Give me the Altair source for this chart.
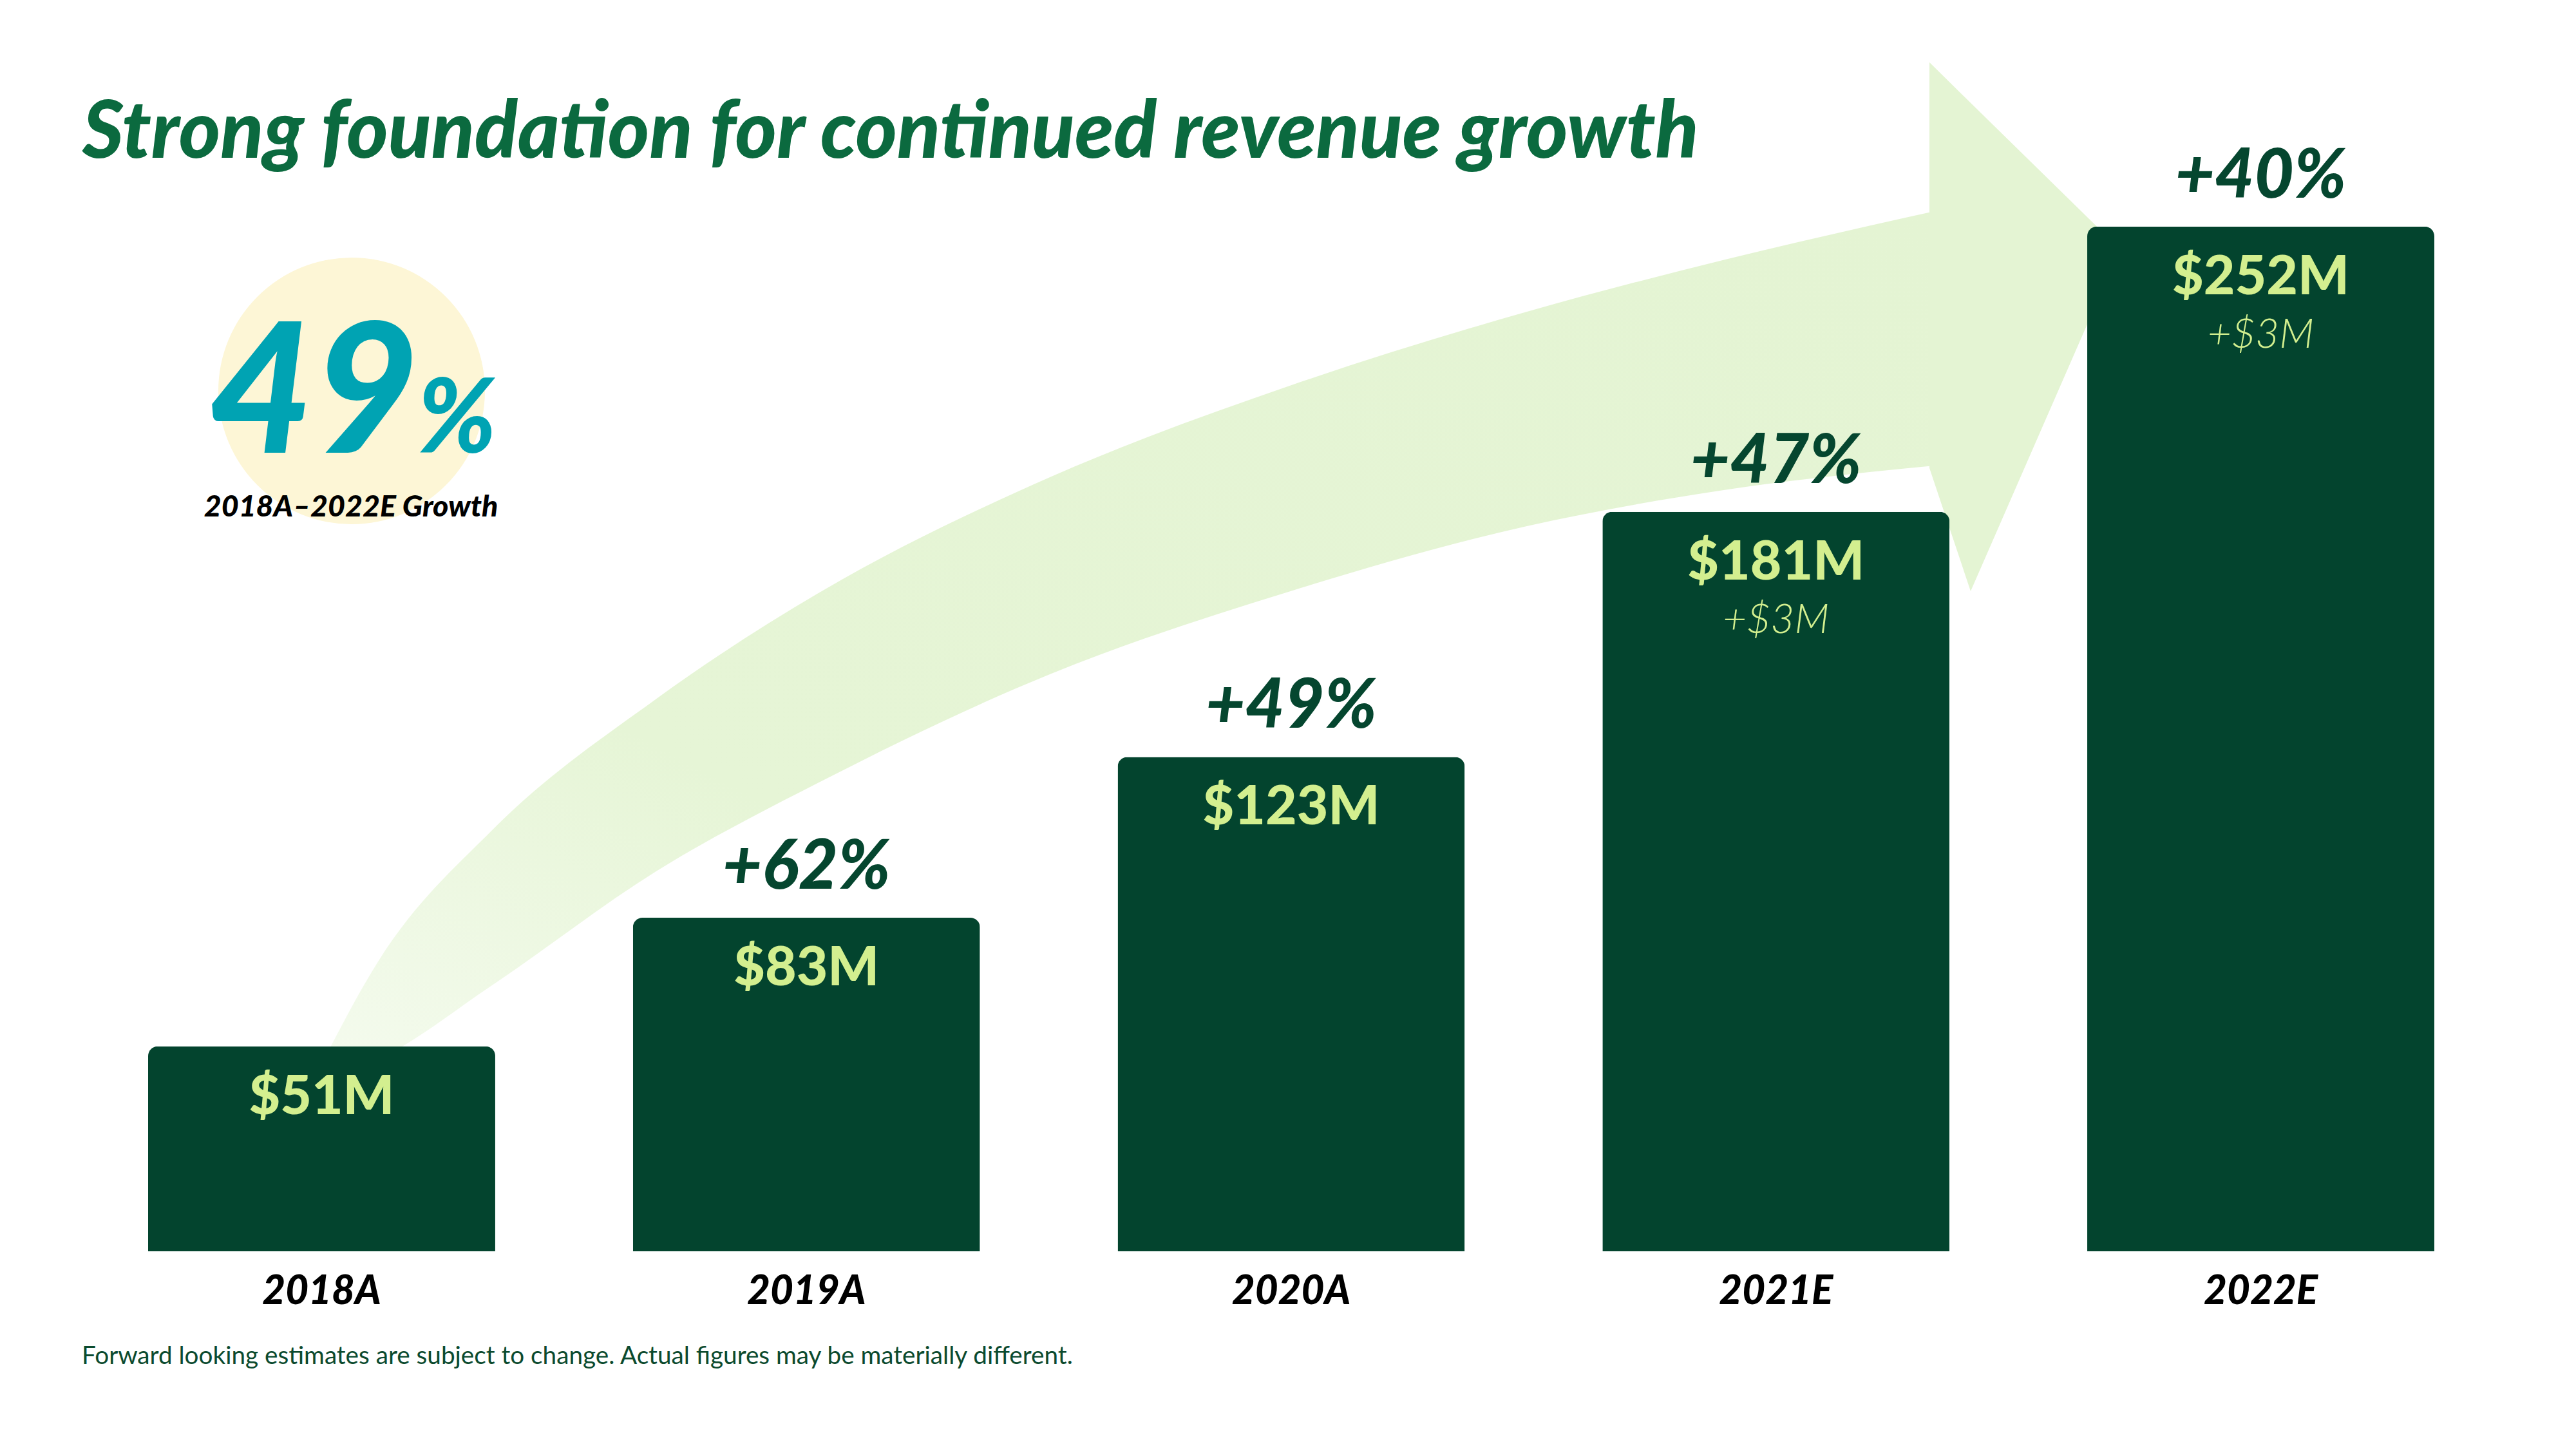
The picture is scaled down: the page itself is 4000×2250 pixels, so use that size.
import altair as alt
import pandas as pd

# ---------------- data ----------------
years = ["2018A", "2019A", "2020A", "2021E", "2022E"]
revenue = [51, 83, 123, 181, 252]          # $M, base revenue
extra = [0, 0, 0, 3, 3]                    # $M, additional upside
growth = ["", "+62%", "+49%", "+47%", "+40%"]
value_labels = ["$51M", "$83M", "$123M", "$181M", "$252M"]
extra_labels = ["", "", "", "+$3M", "+$3M"]

title_text = "Strong foundation for continued revenue growth"
cagr_value = "49"
cagr_unit = "%"
cagr_caption = "2018A\u20132022E Growth"
footnote = "Forward looking estimates are subject to change. Actual figures may be materially different."

# decorative sweeping arrow, outline in percent of the canvas (x from left, y from top)
arrow_body_x = [12.1, 14.7, 19.1, 25.5, 31.9, 40.8, 50.1, 59.3, 67.0, 75.3]
arrow_body_upper = [74.8, 66.3, 57.3, 48.2, 40.8, 32.9, 26.6, 21.5, 17.9, 14.5]
arrow_body_lower = [74.8, 73.1, 68.0, 60.1, 53.9, 46.5, 40.8, 36.3, 33.8, 32.1]
arrow_head_x = [74.9, 76.5, 82.3]
arrow_head_upper = [4.3, 7.1, 17.2]
arrow_head_lower = [32.3, 40.8, 17.2]

# ---------------- styles ----------------
W, H = 3984, 2234
DARK = "#03442e"
LIGHT = "#d3ef8f"
TITLE_GREEN = "#0b6a3f"
TEAL = "#00a3b3"
CREAM = "#fdf6d6"
FONT = "Lato"

df = pd.DataFrame({
    "year": years,
    "revenue": revenue,
    "extra": extra,
    "growth": growth,
    "value_label": value_labels,
    "extra_label": extra_labels,
})
df["total"] = df["revenue"] + df["extra"]

x_scale = alt.Scale(domain=years, range=[222, 3772], paddingInner=0.284, paddingOuter=0)
y_scale = alt.Scale(domain=[0, 300], range=[1935, 63], nice=False, zero=True)

xe = alt.X("year:N", sort=years, scale=x_scale, axis=None)
ye = alt.Y("total:Q", scale=y_scale, axis=None)

base = alt.Chart(df)
bars = base.mark_bar(color=DARK, cornerRadiusTopLeft=15, cornerRadiusTopRight=15).encode(x=xe, y=ye)

growth_t = base.mark_text(font=FONT, fontSize=106, fontWeight=900, fontStyle="italic",
                          color="#05462f", baseline="alphabetic", align="center", dy=-45
                          ).encode(x=xe, y=ye, text="growth:N")
value_t = base.mark_text(font=FONT, fontSize=84, fontWeight=900,
                         color=LIGHT, baseline="alphabetic", align="center", dy=105
                         ).encode(x=xe, y=ye, text="value_label:N")
extra_t = base.mark_text(font=FONT, fontSize=64, fontWeight=300, fontStyle="italic",
                         color=LIGHT, baseline="alphabetic", align="center", dy=188
                         ).encode(x=xe, y=ye, text="extra_label:N")
year_t = base.mark_text(font=FONT, fontSize=62, fontWeight=900, fontStyle="italic",
                        color="#000000", baseline="alphabetic", align="center"
                        ).encode(x=xe, y=alt.value(2017), text="year:N")
bar_group = alt.layer(bars, growth_t, value_t, extra_t, year_t)

# arrow
ax_scale = alt.Scale(domain=[0, 100], range=[-8, W + 8], nice=False, zero=False)
ay_scale = alt.Scale(domain=[0, 100], range=[-8, H + 8], nice=False, zero=False)
arrow_fill = alt.Gradient(
    gradient="linear", x1=0, y1=1, x2=1, y2=0,
    stops=[alt.GradientStop(color="#f5fbef", offset=0),
           alt.GradientStop(color="#e6f5d6", offset=0.3),
           alt.GradientStop(color="#e4f4d3", offset=1)],
)
body_df = pd.DataFrame({"ax": arrow_body_x, "up": arrow_body_upper, "lo": arrow_body_lower})
head_df = pd.DataFrame({"ax": arrow_head_x, "up": arrow_head_upper, "lo": arrow_head_lower})
arrow_body = alt.Chart(body_df).mark_area(interpolate="monotone", orient="vertical", color=arrow_fill).encode(
    x=alt.X("ax:Q", scale=ax_scale, axis=None),
    y=alt.Y("up:Q", scale=ay_scale, axis=None),
    y2="lo:Q",
)
arrow_head = alt.Chart(head_df).mark_area(interpolate="linear", orient="vertical", color="#e4f4d3").encode(
    x=alt.X("ax:Q", scale=ax_scale, axis=None),
    y=alt.Y("up:Q", scale=ay_scale, axis=None),
    y2="lo:Q",
)
arrow_group = alt.layer(arrow_body, arrow_head)

one = pd.DataFrame({"k": [0]})
circle = alt.Chart(one).mark_circle(size=171400, color=CREAM, opacity=1).encode(
    x=alt.value(538), y=alt.value(599))

title = alt.Chart(one).mark_text(text=title_text, font=FONT, fontSize=123, fontWeight=900,
                                 fontStyle="italic", color=TITLE_GREEN, align="left",
                                 baseline="alphabetic").encode(x=alt.value(120), y=alt.value(237))
big = alt.Chart(one).mark_text(text=cagr_value, font=FONT, fontSize=281, fontWeight=900,
                               fontStyle="italic", color=TEAL, align="right",
                               baseline="alphabetic").encode(x=alt.value(642), y=alt.value(695))
pct = alt.Chart(one).mark_text(text=cagr_unit, font=FONT, fontSize=160, fontWeight=900,
                               fontStyle="italic", color=TEAL, align="left",
                               baseline="alphabetic").encode(x=alt.value(640), y=alt.value(695))
caption = alt.Chart(one).mark_text(text=cagr_caption, font=FONT, fontSize=46.5, fontWeight=900,
                                   fontStyle="italic", color="#000000", align="center",
                                   baseline="alphabetic").encode(x=alt.value(537), y=alt.value(794))
foot = alt.Chart(one).mark_text(text=footnote, font=FONT, fontSize=38.7, fontWeight=400,
                                color="#0b4a2e", align="left",
                                baseline="alphabetic").encode(x=alt.value(119), y=alt.value(2110))

chart = alt.layer(
    circle, arrow_group, bar_group, title, big, pct, caption, foot
).resolve_scale(x="independent", y="independent").properties(
    width=W, height=H, autosize="none", padding=0, background="white"
).configure_view(stroke=None)

chart.save("out.html", embed_options={"renderer": "svg", "actions": False})
